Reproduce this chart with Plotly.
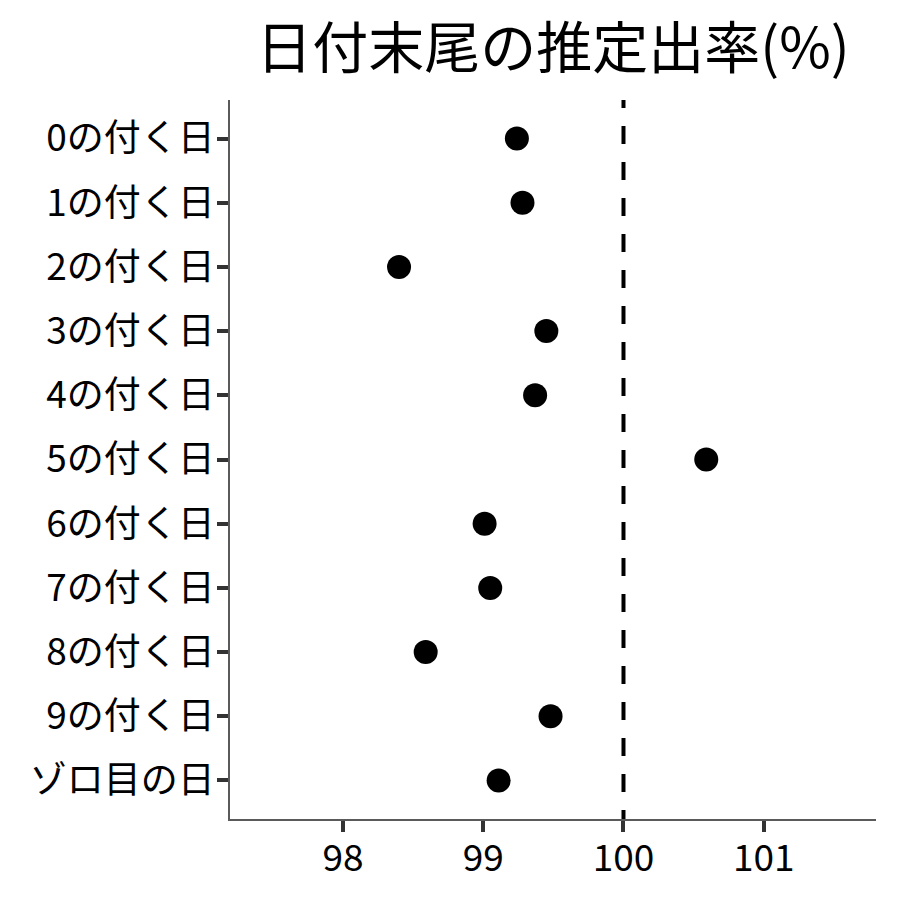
import plotly.graph_objects as go

categories = ["0の付く日", "1の付く日", "2の付く日", "3の付く日", "4の付く日",
              "5の付く日", "6の付く日", "7の付く日", "8の付く日", "9の付く日", "ゾロ目の日"]
values = [99.24, 99.28, 98.40, 99.45, 99.37, 100.59, 99.01, 99.05, 98.59, 99.48, 99.11]
x_ticks = [98, 99, 100, 101]
ref_value = 100
title_text = "日付末尾の推定出率(%)"

FONT = "Noto Sans CJK JP"
W, H = 900, 900
L, R, T, B = 222, 32, 92, 89

# dash pattern starting with a short partial dash at the top (as in the reference)
dash_pattern = "8px,18px," + ",".join(["18px"] * 40)

fig = go.Figure()
fig.add_trace(go.Scatter(
    x=values, y=categories, mode="markers",
    marker=dict(size=24, color="black"),
    showlegend=False, hoverinfo="x+y",
))

fig.add_shape(type="line", xref="x", yref="paper", x0=ref_value, x1=ref_value,
              y0=1, y1=0, line=dict(color="black", width=4, dash=dash_pattern))

fig.update_layout(
    width=W, height=H,
    paper_bgcolor="white", plot_bgcolor="white",
    margin=dict(l=L, r=R, t=T, b=B),
    font=dict(family=FONT, color="black"),
    title=dict(text=title_text, x=545 / W, xanchor="center",
               y=1 - 40 / H, yanchor="middle",
               font=dict(family=FONT, size=56, color="black")),
)
fig.update_xaxes(
    range=[97.195, 101.80], tickvals=x_ticks, ticktext=[str(t) for t in x_ticks],
    showgrid=False, zeroline=False,
    showline=True, linecolor="#5a5a5a", linewidth=1.5,
    ticks="outside", ticklen=11, tickwidth=4, tickcolor="#333333",
    ticklabelstandoff=-5,
    tickfont=dict(family=FONT, size=37, color="black"),
)
fig.update_yaxes(
    categoryorder="array", categoryarray=categories[::-1],
    range=[-0.6, 10.6],
    showgrid=False, zeroline=False,
    showline=True, linecolor="#5a5a5a", linewidth=1.5,
    ticks="outside", ticklen=11, tickwidth=4, tickcolor="#333333",
    ticklabelstandoff=-5,
    tickfont=dict(family=FONT, size=37, color="black"),
)

fig.write_html("out.html")
